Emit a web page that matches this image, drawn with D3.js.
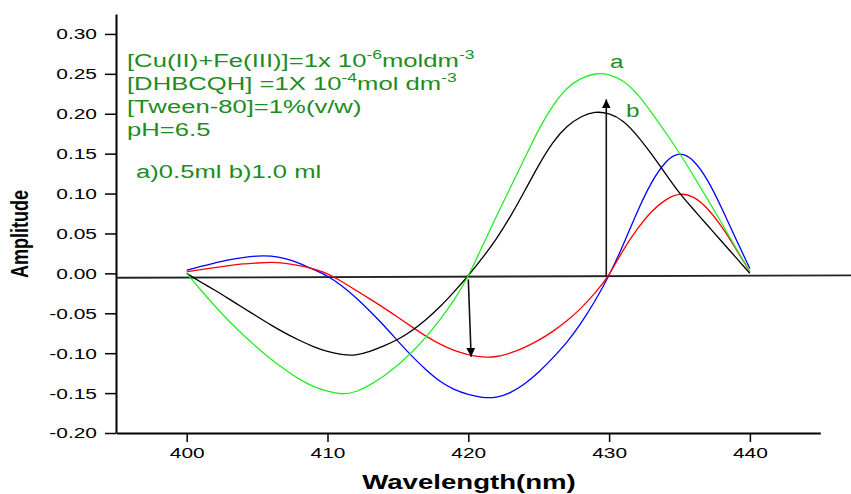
<!DOCTYPE html>
<html>
<head>
<meta charset="utf-8">
<script src="https://cdn.jsdelivr.net/npm/d3@7"></script>
<style>
  body { margin: 0; background: #fff; }
  text { font-family: "Liberation Sans", Arial, sans-serif; }
</style>
</head>
<body>
<div id="chart"></div>
<script>
// wavelength (nm) and the four derivative curves
const waveNm = [400, 401, 402, 403, 404, 405, 406, 407, 408, 409, 410, 411, 412, 413, 414, 415, 416, 417, 418, 419, 420,
                421, 422, 423, 424, 425, 426, 427, 428, 429, 430, 431, 432, 433, 434, 435, 436, 437, 438, 439, 440];
const curveA = [0.000, -0.021, -0.041, -0.060, -0.077, -0.093, -0.108, -0.121, -0.133, -0.142, -0.148, -0.152, -0.149, -0.140, -0.129, -0.115, -0.099, -0.080, -0.058, -0.034, -0.004,
                0.034, 0.072, 0.108, 0.144, 0.181, 0.211, 0.233, 0.245, 0.251, 0.250, 0.242, 0.226, 0.202, 0.177, 0.151, 0.122, 0.093, 0.063, 0.032, 0.002];
const curveB = [0.000, -0.011, -0.021, -0.032, -0.043, -0.054, -0.065, -0.075, -0.084, -0.092, -0.098, -0.102, -0.103, -0.098, -0.091, -0.083, -0.072, -0.058, -0.042, -0.023, -0.003,
                0.019, 0.043, 0.071, 0.103, 0.136, 0.165, 0.185, 0.197, 0.203, 0.201, 0.192, 0.173, 0.150, 0.125, 0.100, 0.080, 0.060, 0.040, 0.020, 0.000];
const curveBlue = [0.004, 0.009, 0.013, 0.017, 0.020, 0.022, 0.022, 0.019, 0.013, 0.005, -0.003, -0.015, -0.030, -0.047, -0.065, -0.085, -0.104, -0.121, -0.136, -0.146, -0.152,
                   -0.156, -0.156, -0.150, -0.139, -0.124, -0.106, -0.087, -0.063, -0.035, -0.003, 0.035, 0.078, 0.115, 0.141, 0.153, 0.143, 0.118, 0.082, 0.043, 0.006];
const curveRed = [0.002, 0.005, 0.007, 0.010, 0.012, 0.013, 0.014, 0.013, 0.010, 0.006, 0.000, -0.010, -0.021, -0.032, -0.043, -0.055, -0.067, -0.079, -0.089, -0.097, -0.102,
                  -0.105, -0.105, -0.100, -0.093, -0.084, -0.073, -0.060, -0.044, -0.025, -0.003, 0.030, 0.056, 0.078, 0.093, 0.101, 0.097, 0.082, 0.059, 0.031, 0.002];

const xTicks = [400, 410, 420, 430, 440];
const xMinor = [395, 405, 415, 425, 435, 445];
const yTicks = [-0.20, -0.15, -0.10, -0.05, 0.00, 0.05, 0.10, 0.15, 0.20, 0.25, 0.30];
const yMinor = [-0.175, -0.125, -0.075, -0.025, 0.025, 0.075, 0.125, 0.175, 0.225, 0.275, 0.325];

// reference line and arrows, in data units
const baseLine = [[395, -0.0055], [448, -0.0025]];
const arrows = [[[429.8, -0.004], [429.8, 0.218]], [[420.0, -0.0075], [420.2, -0.1045]]];

const noteLines = [
  ["[Cu(II)+Fe(III)]=1x 10", "-6", "moldm", "-3"],
  ["[DHBCQH] =1X 10", "-4", "mol dm", "-3"],
  ["[Tween-80]=1%(v/w)"],
  ["pH=6.5"]
];
const noteLast = "a)0.5ml b)1.0 ml";

const W = 851, H = 494;
const stretch = 1.35; // the figure's lettering is widened horizontally
const green = "#1e8c1e";

const svg = d3.select("#chart").append("svg")
    .attr("width", W)
    .attr("height", H);

const x = d3.scaleLinear().domain([395, 445]).range([116.3, 820.3]);
const y = d3.scaleLinear().domain([-0.2, 0.325]).range([433, 14]);

// axes
const gx = svg.append("g").attr("transform", "translate(0,433)");
gx.call(d3.axisBottom(x).tickValues(xMinor).tickSize(5).tickFormat("").tickSizeOuter(0));
gx.call(d3.axisBottom(x).tickValues(xTicks).tickSize(9).tickSizeOuter(0).tickFormat(d => String(d)));
gx.selectAll("path").attr("stroke-width", 2);
gx.selectAll("line").attr("stroke-width", 1.5);
gx.selectAll("text")
    .attr("font-size", 15.5)
    .attr("y", 14)
    .attr("fill", "#000")
    .attr("transform", `scale(${stretch},1)`);

const gy = svg.append("g").attr("transform", "translate(116,0)");
gy.call(d3.axisLeft(y).tickValues(yMinor).tickSize(6).tickFormat("").tickSizeOuter(0));
gy.call(d3.axisLeft(y).tickValues(yTicks).tickSize(11).tickSizeOuter(0).tickFormat(d => d.toFixed(2)));
gy.selectAll("path").attr("stroke-width", 2);
gy.selectAll("line").attr("stroke-width", 1.5);
gy.selectAll("text")
    .attr("font-size", 15.5)
    .attr("x", -19 / stretch)
    .attr("fill", "#000")
    .attr("transform", `scale(${stretch},1)`);

// axis titles
svg.append("text")
    .attr("transform", `translate(469,489) scale(1.38,1)`)
    .attr("text-anchor", "middle")
    .attr("font-size", 20)
    .attr("font-weight", "bold")
    .text("Wavelength(nm)");

svg.append("text")
    .attr("transform", "translate(28,234) rotate(-90) scale(1,1.3)")
    .attr("text-anchor", "middle")
    .attr("font-size", 18)
    .attr("font-weight", "bold")
    .text("Amplitude");

// horizontal reference line
const seg = d3.line().x(d => x(d[0])).y(d => y(d[1]));
svg.append("path")
    .attr("d", seg(baseLine))
    .attr("fill", "none")
    .attr("stroke", "#222")
    .attr("stroke-width", 1.8);

// curves
const series = [
  { values: curveBlue, color: "#0000ff" },
  { values: curveRed, color: "#ff0000" },
  { values: curveB, color: "#000000" },
  { values: curveA, color: "#22ee22" }
];
const line = d3.line()
    .x((d, i) => x(waveNm[i]))
    .y(d => y(d))
    .curve(d3.curveBasis);

svg.selectAll(".curve").data(series).join("path")
    .attr("class", "curve")
    .attr("d", d => line(d.values))
    .attr("fill", "none")
    .attr("stroke", d => d.color)
    .attr("stroke-width", 1.3);

// arrows
svg.append("defs").append("marker")
    .attr("id", "head")
    .attr("viewBox", "0 0 10 10")
    .attr("refX", 10).attr("refY", 5)
    .attr("markerWidth", 9).attr("markerHeight", 9)
    .attr("markerUnits", "userSpaceOnUse")
    .attr("orient", "auto")
  .append("path")
    .attr("d", "M0,0L10,5L0,10Z")
    .attr("fill", "#000");

svg.selectAll(".arrow").data(arrows).join("path")
    .attr("class", "arrow")
    .attr("d", d => seg(d))
    .attr("stroke", "#111")
    .attr("stroke-width", 1.6)
    .attr("marker-end", "url(#head)");

// curve labels
svg.append("text").attr("transform", `translate(610,68) scale(${stretch},1)`)
    .attr("font-size", 18).attr("fill", green).text("a");
svg.append("text").attr("transform", `translate(626,117) scale(${stretch},1)`)
    .attr("font-size", 18).attr("fill", green).text("b");

// conditions note
const note = svg.append("g")
    .attr("transform", `translate(127,67) scale(${stretch},1)`)
    .attr("fill", green);
noteLines.forEach((parts, i) => {
  const t = note.append("text").attr("y", i * 23.1).attr("font-size", 19);
  parts.forEach((p, j) => {
    const sup = j % 2 === 1;
    t.append("tspan")
        .attr("font-size", sup ? 13 : 19)
        .attr("dy", sup ? -8 : (j > 0 ? 8 : 0))
        .text(p);
  });
});
note.append("text")
    .attr("x", 6.7)
    .attr("y", 110.7)
    .attr("font-size", 19)
    .text(noteLast);
</script>
</body>
</html>
